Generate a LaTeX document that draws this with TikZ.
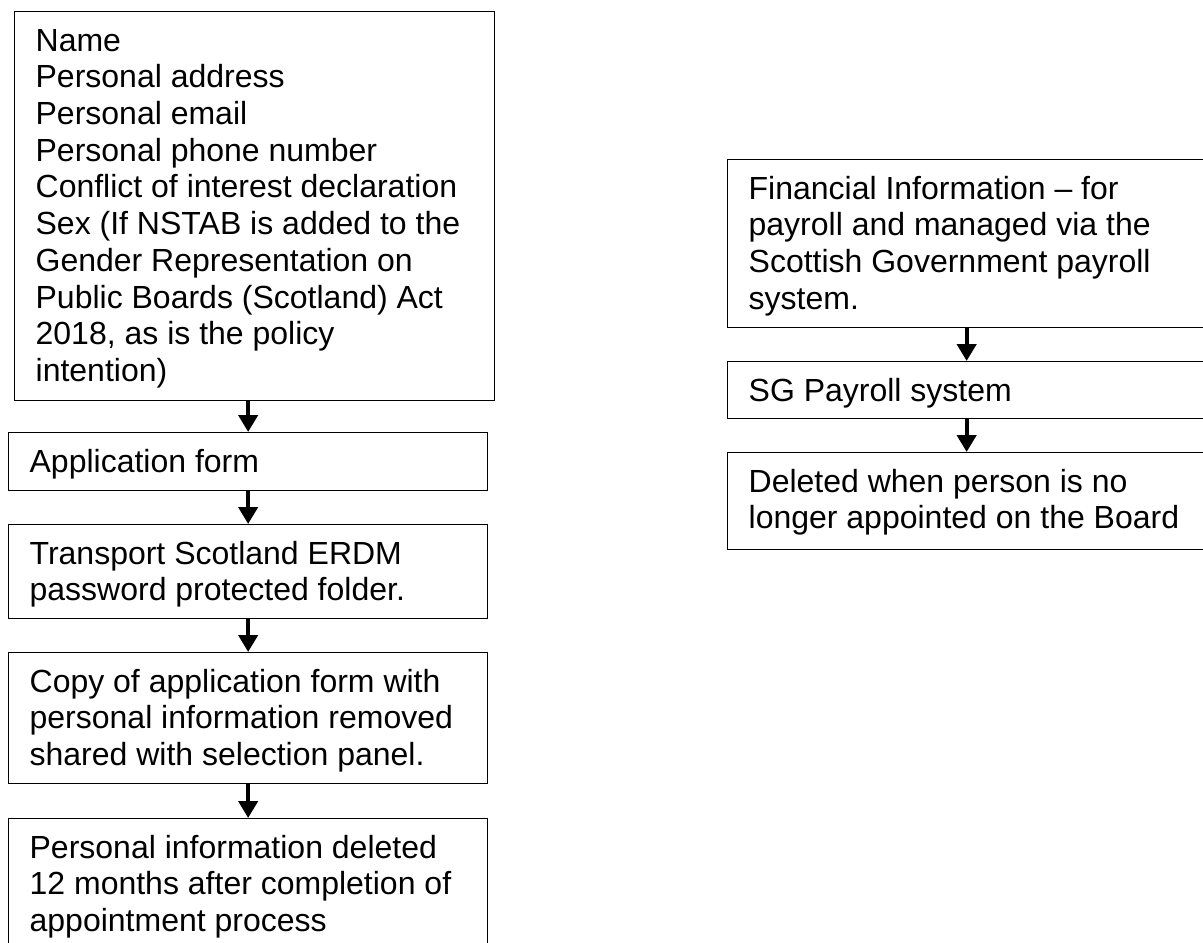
\documentclass[tikz,border=0pt]{standalone}
\usepackage{fontspec}
\setmainfont{Liberation Sans}
\usetikzlibrary{arrows.meta}
\newcommand{\boxtxt}[3]{\parbox[t][#2pt][t]{#1pt}{\fontsize{32}{36.7}\selectfont\rule{0pt}{39.5pt}#3}}
\begin{document}
\begin{tikzpicture}[x=1pt,y=-1pt,
  box/.style={draw, line width=1.3pt, rectangle, anchor=north west, inner xsep=21pt, inner ysep=0pt},
  arr/.style={line width=4.3pt, -{Triangle[width=19pt,length=17pt]}}]
\useasboundingbox (0,0) rectangle (1203,943);
\clip (0,0) rectangle (1203,943);
\node[box] (a) at (14,11) {\boxtxt{438}{389}{Name\\Personal address\\Personal email\\Personal phone number\\Conflict of interest declaration\\Sex (If NSTAB is added to the\\Gender Representation on\\Public Boards (Scotland) Act\\2018, as is the policy\\intention)}};
\node[box] (b) at (8,432) {\boxtxt{437}{58}{Application form}};
\node[box] (c) at (8,524) {\boxtxt{437}{94}{Transport Scotland ERDM\\password protected folder.}};
\node[box] (d) at (8,652) {\boxtxt{437}{131}{Copy of application form with\\personal information removed\\shared with selection panel.}};
\node[box] (e) at (8,818) {\boxtxt{437}{140}{Personal information deleted\\12 months after completion of\\appointment process}};
\node[box] (f) at (727,159) {\boxtxt{436}{168}{Financial Information – for\\payroll and managed via the\\Scottish Government payroll\\system.}};
\node[box] (g) at (727,361) {\boxtxt{436}{57}{SG Payroll system}};
\node[box] (h) at (727,452) {\boxtxt{436}{97}{Deleted when person is no\\longer appointed on the Board}};
\draw[arr] (a.south -| b.north) -- (b.north);
\draw[arr] (b.south) -- (c.north);
\draw[arr] (c.south) -- (d.north);
\draw[arr] (d.south) -- (e.north);
\draw[arr] (f.south) -- (g.north);
\draw[arr] (g.south) -- (h.north);
\end{tikzpicture}
\end{document}
